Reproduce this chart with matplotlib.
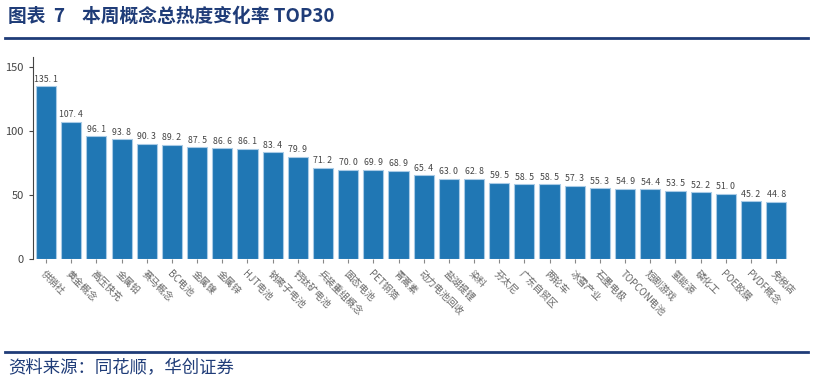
import matplotlib.pyplot as plt
from matplotlib.lines import Line2D

plt.rcParams['font.family'] = ['Noto Sans CJK SC', 'DejaVu Sans']

# 概念名称与热度变化率
concepts = ['供销社', '黄金概念', '高压快充', '金属铅', '赛马概念', 'BC电池', '金属镍', '金属锌',
            'HJT电池', '钠离子电池', '钙钛矿电池', '兵装重组概念', '固态电池', 'PET铜箔', '青蒿素',
            '动力电池回收', '盐湖提锂', '染料', '芬太尼', '广东自贸区', '两轮车', '冰雪产业',
            '石墨电极', 'TOPCON电池', '短剧游戏', '氢能源', '磷化工', 'POE胶膜', 'PVDF概念', '免税店']
values = [135.1, 107.4, 96.1, 93.8, 90.3, 89.2, 87.5, 86.6, 86.1, 83.4, 79.9, 71.2, 70.0, 69.9, 68.9,
          65.4, 63.0, 62.8, 59.5, 58.5, 58.5, 57.3, 55.3, 54.9, 54.4, 53.5, 52.2, 51.0, 45.2, 44.8]
yticks = [0, 50, 100, 150]

navy = '#1F3C78'
fig = plt.figure(figsize=(8.14, 3.83), dpi=100)

fig.text(0.010, 0.958, '图表  7    本周概念总热度变化率 TOP30', fontsize=13.5, fontweight='bold',
         color=navy, va='center', ha='left')
fig.add_artist(Line2D([0.006, 0.993], [0.90, 0.90], color=navy, lw=2))
fig.add_artist(Line2D([0.006, 0.993], [0.081, 0.081], color=navy, lw=2))
fig.text(0.010, 0.038, '资料来源：同花顺，华创证券', fontsize=12.5, color=navy, style='italic',
         va='center', ha='left')

ax = fig.add_axes([0.0405, 0.3238, 0.93, 0.527])
x = range(len(values))
ax.bar(x, values, width=0.8, color='#2077B4', edgecolor='#A9CBE6', linewidth=0.8)
for i, v in enumerate(values):
    ax.text(i, v + 2, f'{v:.1f}'.replace('.', '. '), ha='center', va='bottom', fontsize=6.3,
            color='#444444')

ax.set_xlim(-0.52, 29.55)
ax.set_ylim(0, 158)
ax.set_yticks(yticks)
ax.set_xticks(list(x))
ax.set_xticklabels(concepts, rotation=-45, ha='left', va='top', rotation_mode='anchor',
                   fontsize=7, color='#666666')
ax.tick_params(axis='y', labelsize=8, colors='#444444', length=3)
ax.tick_params(axis='x', length=3, colors='#888888', labelcolor='#666666', pad=4)
for s in ['top', 'right']:
    ax.spines[s].set_visible(False)
ax.spines['left'].set_color('#444444')
ax.spines['bottom'].set_visible(False)

fig.savefig('out.png', dpi=100)
